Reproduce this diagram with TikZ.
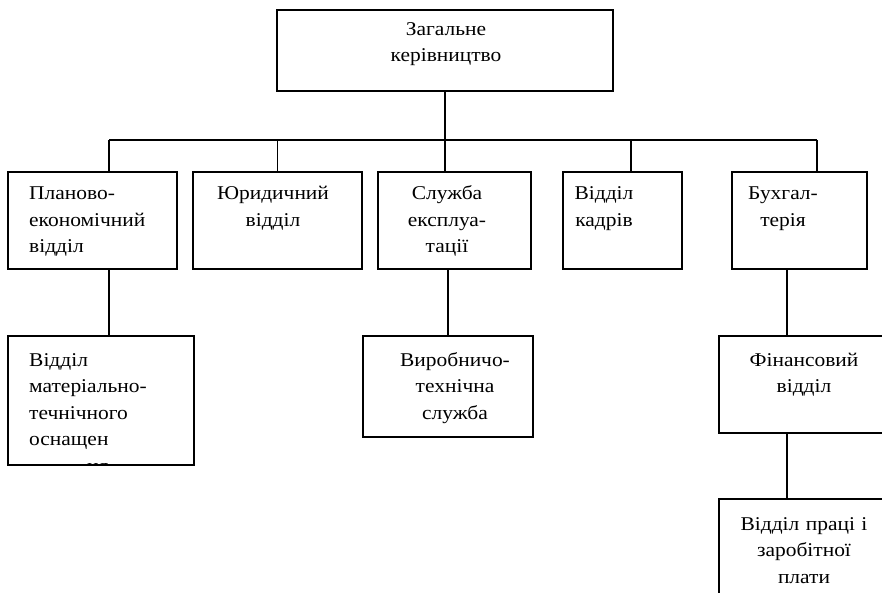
\documentclass[tikz,border=0pt]{standalone}
\usepackage{fontspec}
\setmainfont[FakeStretch=1.1]{Liberation Serif}
\usetikzlibrary{positioning}

\begin{document}
\begin{tikzpicture}[x=1pt, y=-1pt,
  unit/.style={draw, line width=1.6pt, inner sep=0pt},
  txt/.style={inner sep=0pt, text width=#1, anchor=base, align=center,
              font=\fontsize{19.5}{26.5}\selectfont},
  link/.style={line width=1.6pt}
]
  \useasboundingbox (0,0) rectangle (882,593);

  % frames
  \node[unit, minimum width=336pt, minimum height=81pt]  (top)     at (445,50.5) {};
  \node[unit, minimum width=169pt, minimum height=97pt]  (plan)    at (92.5,220.5) {};
  \node[unit, minimum width=169pt, minimum height=97pt]  (legal)   at (277.5,220.5) {};
  \node[unit, minimum width=153pt, minimum height=97pt]  (service) at (454.5,220.5) {};
  \node[unit, minimum width=119pt, minimum height=97pt]  (staff)   at (622.5,220.5) {};
  \node[unit, minimum width=135pt, minimum height=97pt]  (account) at (799.5,220.5) {};
  \node[unit, minimum width=186pt, minimum height=129pt] (supply)  at (101,400.5) {};
  \node[unit, minimum width=170pt, minimum height=101pt] (tech)    at (448,386.5) {};
  \node[unit, minimum width=170pt, minimum height=97pt]  (finance) at (804,384.5) {};
  \node[unit, minimum width=170pt, minimum height=120pt] (labour)  at (804,559) {};

  % texts
  \node[txt=160pt] (toptext) at (446,35.5) {Загальне\\керівництво};
  \node[txt=150pt, align=left, anchor=base west] (plantext) at (29,200) {Планово-\\економічний\\відділ};
  \node[txt=150pt] (legaltext)   at (273,200) {Юридичний\\відділ};
  \node[txt=140pt] (servicetext) at (447,200) {Служба\\експлуа-\\тації};
  \node[txt=110pt] (stafftext)   at (604,200) {Відділ\\кадрів};
  \node[txt=120pt] (accounttext) at (783,200) {Бухгал-\\терія};
  \begin{scope}
    \clip (supply.north west) rectangle (supply.south east);
    \node[txt=160pt, align=left, anchor=base west] (supplytext) at (29,366)
      {Відділ\\матеріально-\\течнічного\\оснащен\\\hspace*{58pt}ня};
  \end{scope}
  \node[txt=160pt] (techtext)    at (455,366) {Виробничо-\\технічна\\служба};
  \node[txt=160pt] (financetext) at (804,366) {Фінансовий\\відділ};
  \node[txt=160pt] (labourtext)  at (804,530) {Відділ праці і\\заробітної\\плати};

  % connectors
  \coordinate (busL) at (109,140);
  \coordinate (busR) at (817,140);
  \draw[link] (busL) -- (busR);
  \draw[link] (top.south) -- (top.south |- service.north);
  \draw[link] (busL) -- (busL |- plan.north);
  \draw[link] (legal.north) -- (legal.north |- busL);
  \draw[link] ([xshift=8.5pt]staff.north) -- ([xshift=8.5pt]staff.north |- busL);
  \draw[link] (busR) -- (busR |- account.north);
  \draw[link] ([xshift=16.5pt]plan.south) -- ([xshift=16.5pt]plan.south |- supply.north);
  \draw[link] (tech.north) -- (tech.north |- service.south);
  \draw[link] ([xshift=-12.5pt]account.south) -- ([xshift=-12.5pt]account.south |- finance.north);
  \draw[link] ([xshift=-17pt]finance.south) -- ([xshift=-17pt]finance.south |- labour.north);
\end{tikzpicture}
\end{document}
